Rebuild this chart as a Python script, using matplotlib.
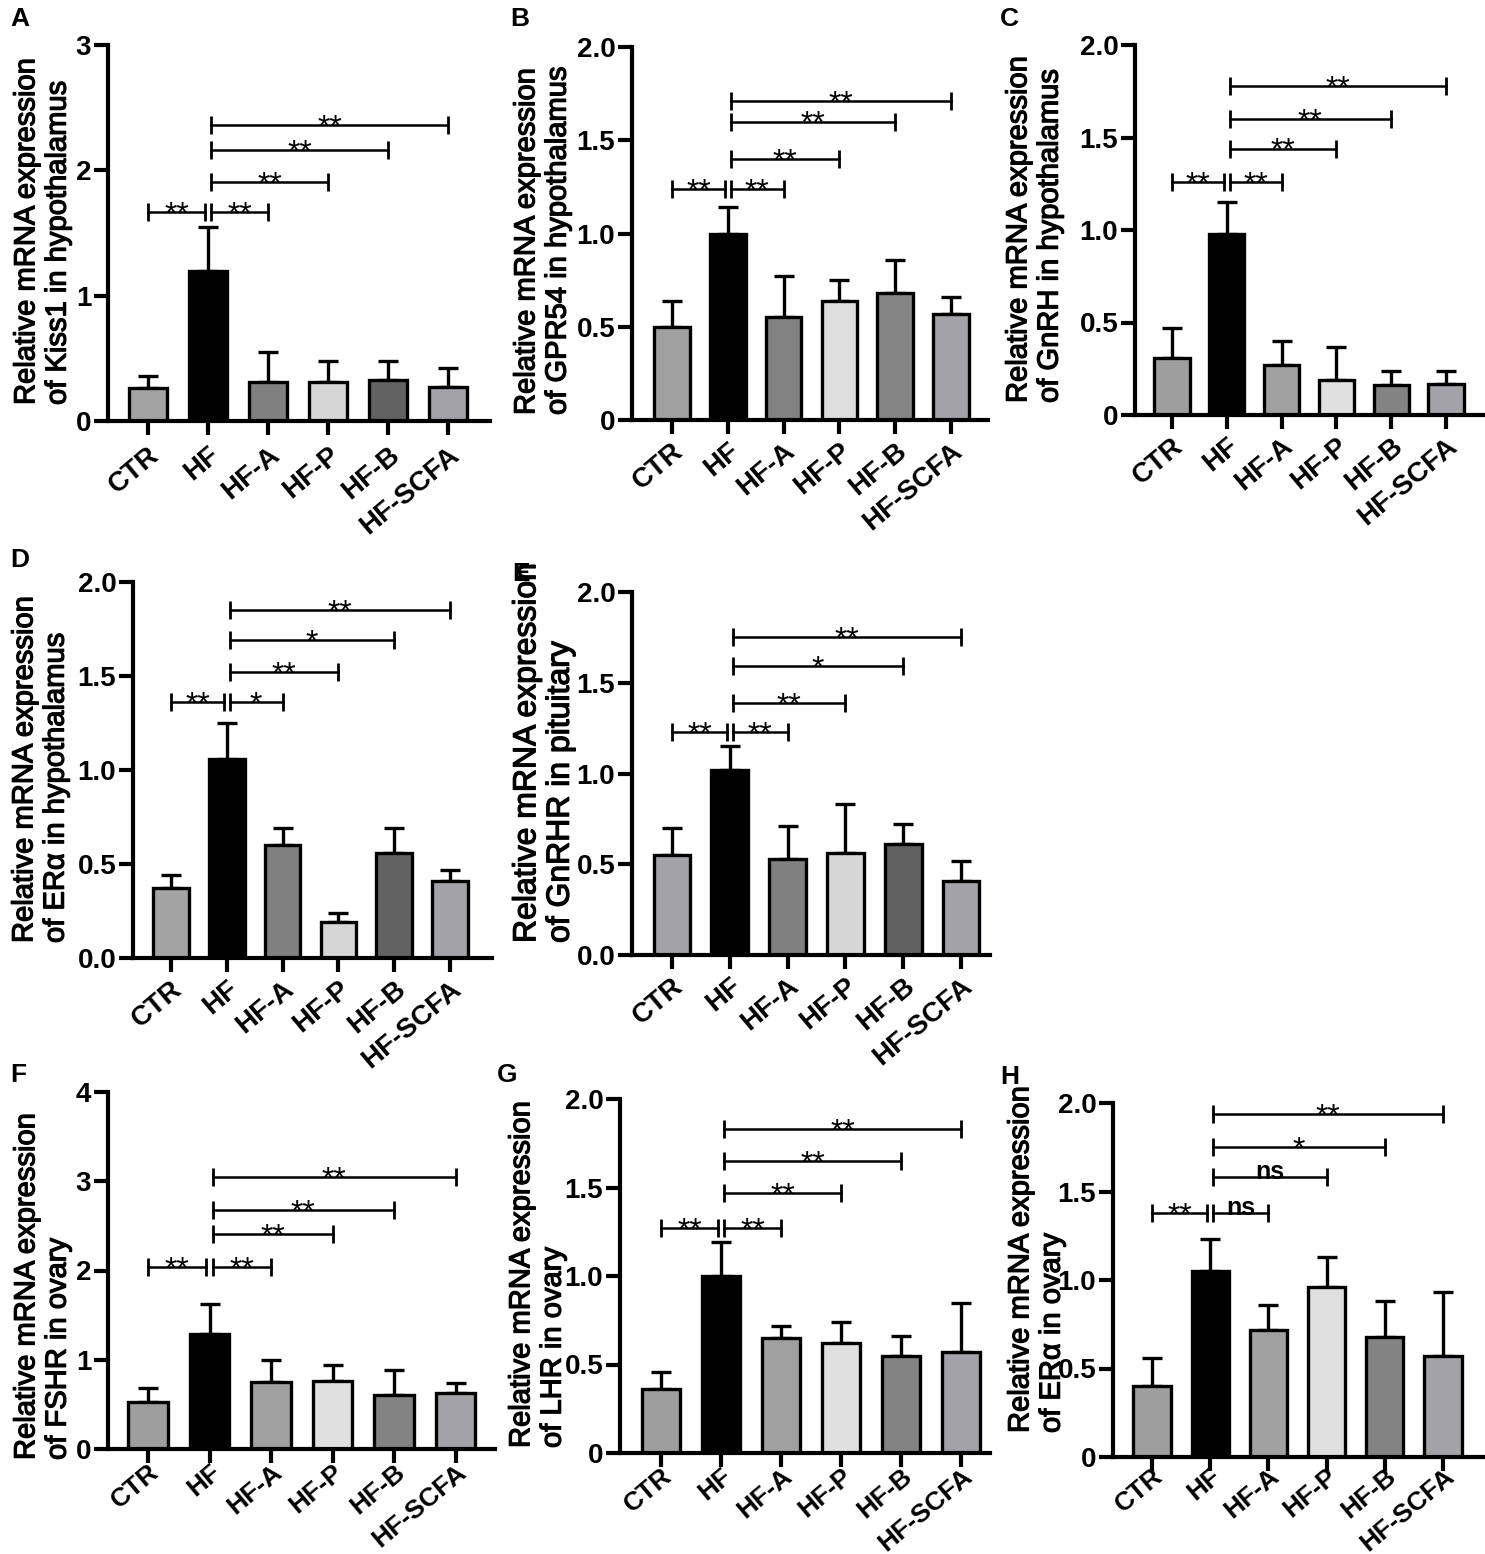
import numpy as np
import matplotlib
matplotlib.use("Agg")
import matplotlib.pyplot as plt
import matplotlib.patheffects as pe

plt.rcParams['font.family'] = ['Liberation Sans', 'DejaVu Sans']

W, H = 1485, 1554

groups = ['CTR', 'HF', 'HF-A', 'HF-P', 'HF-B', 'HF-SCFA']

# mean values and top of error bar
kiss1_mean = [0.26, 1.20, 0.31, 0.31, 0.33, 0.27]
kiss1_top = [0.36, 1.55, 0.55, 0.48, 0.48, 0.42]
gpr54_mean = [0.50, 1.00, 0.55, 0.64, 0.68, 0.57]
gpr54_top = [0.64, 1.14, 0.77, 0.75, 0.86, 0.66]
gnrh_mean = [0.31, 0.98, 0.27, 0.19, 0.16, 0.17]
gnrh_top = [0.47, 1.15, 0.40, 0.37, 0.24, 0.24]
era_hyp_mean = [0.37, 1.06, 0.60, 0.19, 0.56, 0.41]
era_hyp_top = [0.44, 1.25, 0.69, 0.24, 0.69, 0.47]
gnrhr_mean = [0.55, 1.02, 0.53, 0.56, 0.61, 0.41]
gnrhr_top = [0.70, 1.15, 0.71, 0.83, 0.72, 0.52]
fshr_mean = [0.53, 1.29, 0.75, 0.76, 0.61, 0.63]
fshr_top = [0.68, 1.62, 1.00, 0.94, 0.88, 0.74]
lhr_mean = [0.36, 1.00, 0.65, 0.62, 0.55, 0.57]
lhr_top = [0.46, 1.19, 0.72, 0.74, 0.66, 0.85]
era_ov_mean = [0.40, 1.05, 0.72, 0.96, 0.68, 0.57]
era_ov_top = [0.56, 1.23, 0.86, 1.13, 0.88, 0.93]

# significance brackets: (from group, to group, height, label)
sig_A = [(0, 1, 1.67, '**'), (1, 2, 1.67, '**'), (1, 3, 1.91, '**'), (1, 4, 2.16, '**'), (1, 5, 2.36, '**')]
sig_B = [(0, 1, 1.24, '**'), (1, 2, 1.24, '**'), (1, 3, 1.40, '**'), (1, 4, 1.60, '**'), (1, 5, 1.71, '**')]
sig_C = [(0, 1, 1.26, '**'), (1, 2, 1.26, '**'), (1, 3, 1.44, '**'), (1, 4, 1.60, '**'), (1, 5, 1.78, '**')]
sig_D = [(0, 1, 1.36, '**'), (1, 2, 1.36, '*'), (1, 3, 1.52, '**'), (1, 4, 1.69, '*'), (1, 5, 1.85, '**')]
sig_E = [(0, 1, 1.23, '**'), (1, 2, 1.23, '**'), (1, 3, 1.39, '**'), (1, 4, 1.59, '*'), (1, 5, 1.75, '**')]
sig_F = [(0, 1, 2.04, '**'), (1, 2, 2.04, '**'), (1, 3, 2.41, '**'), (1, 4, 2.68, '**'), (1, 5, 3.05, '**')]
sig_G = [(0, 1, 1.27, '**'), (1, 2, 1.27, '**'), (1, 3, 1.47, '**'), (1, 4, 1.65, '**'), (1, 5, 1.83, '**')]
sig_H = [(0, 1, 1.38, '**'), (1, 2, 1.38, 'ns'), (1, 3, 1.58, 'ns'), (1, 4, 1.75, '*'), (1, 5, 1.94, '**')]

col1 = ['#a3a3a3', '#000000', '#808080', '#d6d6d6', '#626262', '#a2a2a8']
col2 = ['#a0a0a0', '#000000', '#828282', '#dedede', '#848484', '#a2a2a8']
col3 = ['#9e9e9e', '#000000', '#a0a0a0', '#e0e0e0', '#838383', '#a2a2a8']

ticks2 = [0, 0.5, 1.0, 1.5, 2.0]

# panel layout in pixels: y-axis x, first bar x, bar spacing, x-axis end, top, zero line
panels = [
    dict(letter='A', lpos=(10, 7), mean=kiss1_mean, top=kiss1_top, sig=sig_A, colors=col1,
         ymax=3, ticks=[0, 1, 2, 3], tl=['0', '1', '2', '3'],
         box=(108, 148, 60, 490, 45, 421), xpad=5, xlfs=20,
         ylab='Relative mRNA expression\nof Kiss1 in hypothalamus', ylpos=(42, 405), ylfs=21),
    dict(letter='B', lpos=(510, 7), mean=gpr54_mean, top=gpr54_top, sig=sig_B, colors=col2,
         ymax=2, ticks=ticks2, tl=['0', '0.5', '1.0', '1.5', '2.0'],
         box=(632, 672, 55.8, 988, 47, 420), xpad=3, xlfs=20,
         ylab='Relative mRNA expression\nof GPR54 in hypothalamus', ylpos=(542, 415), ylfs=21),
    dict(letter='C', lpos=(1000, 7), mean=gnrh_mean, top=gnrh_top, sig=sig_C, colors=col3,
         ymax=2, ticks=ticks2, tl=['0', '0.5', '1.0', '1.5', '2.0'],
         box=(1135, 1172, 54.8, 1485, 45, 415), xpad=3, xlfs=20,
         ylab='Relative mRNA expression\nof GnRH in hypothalamus', ylpos=(1034, 403), ylfs=21),
    dict(letter='D', lpos=(10, 548), mean=era_hyp_mean, top=era_hyp_top, sig=sig_D, colors=col1,
         ymax=2, ticks=ticks2, tl=['0.0', '0.5', '1.0', '1.5', '2.0'],
         box=(133, 171, 55.8, 492, 582, 958), xpad=3, xlfs=20,
         ylab='Relative mRNA expression\nof ER\u03b1 in hypothalamus', ylpos=(40, 943), ylfs=21),
    dict(letter='E', lpos=(512, 562), mean=gnrhr_mean, top=gnrhr_top, sig=sig_E,
         colors=['#a2a2a8', '#000000', '#808080', '#d6d6d6', '#606060', '#a2a2a8'],
         ymax=2, ticks=ticks2, tl=['0.0', '0.5', '1.0', '1.5', '2.0'],
         box=(632, 672, 57.8, 990, 592, 955), xpad=3, xlfs=20,
         ylab='Relative mRNA expression\nof GnRHR in pituitary', ylpos=(544, 943), ylfs=23),
    dict(letter='F', lpos=(10, 1063), mean=fshr_mean, top=fshr_top, sig=sig_F, colors=col3,
         ymax=4, ticks=[0, 1, 2, 3, 4], tl=['0', '1', '2', '3', '4'],
         box=(108, 148, 61.5, 495, 1092, 1449), xpad=-2, xlfs=19,
         ylab='Relative mRNA expression\nof FSHR in ovary', ylpos=(42, 1460), ylfs=21),
    dict(letter='G', lpos=(497, 1063), mean=lhr_mean, top=lhr_top, sig=sig_G, colors=col3,
         ymax=2, ticks=ticks2, tl=['0', '0.5', '1.0', '1.5', '2.0'],
         box=(620, 661, 60, 990, 1099, 1453), xpad=-2, xlfs=19,
         ylab='Relative mRNA expression\nof LHR in ovary', ylpos=(537, 1448), ylfs=21),
    dict(letter='H', lpos=(1000, 1065), mean=era_ov_mean, top=era_ov_top, sig=sig_H, colors=col3,
         ymax=2, ticks=ticks2, tl=['0', '0.5', '1.0', '1.5', '2.0'],
         box=(1113, 1152, 58.2, 1485, 1103, 1457), xpad=-5, xlfs=19,
         ylab='Relative mRNA expression\nof ER\u03b1 in ovary', ylpos=(1036, 1433), ylfs=21),
]

fig = plt.figure(figsize=(W / 100, H / 100), dpi=100)
thick = [pe.withStroke(linewidth=0.9, foreground='black')]

for p in panels:
    yx, c0, sp, xr, ytop, y0 = p['box']
    ax = fig.add_axes([yx / W, 1 - y0 / H, (xr - yx) / W, (y0 - ytop) / H])
    x = np.arange(len(groups))
    mean = np.array(p['mean'])
    err = np.array(p['top']) - mean
    ax.errorbar(x, mean, yerr=[np.zeros_like(err), err], fmt='none', ecolor='black',
                elinewidth=2.4, capsize=7, capthick=2.4, zorder=1)
    ax.bar(x, mean, width=0.64, color=p['colors'], edgecolor='black', linewidth=2.4, zorder=2)
    ax.set_xlim(-(c0 - yx) / sp, (xr - c0) / sp)
    ax.set_ylim(0, p['ymax'])
    ax.set_yticks(p['ticks'])
    ax.set_yticklabels(p['tl'])
    ax.set_xticks(x)
    ax.set_xticklabels(groups, rotation=40, ha='right', va='top', rotation_mode='anchor')
    for s in ['top', 'right']:
        ax.spines[s].set_visible(False)
    for s in ['left', 'bottom']:
        ax.spines[s].set_linewidth(3)
    ax.tick_params(axis='y', length=10, width=3, pad=2, labelsize=20)
    ax.tick_params(axis='x', length=10, width=3, pad=p['xpad'], labelsize=p['xlfs'])
    for lab in ax.get_xticklabels() + ax.get_yticklabels():
        lab.set_fontweight('bold')
    for i, j, yv, txt in p['sig']:
        x1 = i + (0.05 if i == 1 else 0)
        x2 = j - (0.05 if j == 1 else 0)
        ax.plot([x1, x2], [yv, yv], color='black', lw=1.8, clip_on=False)
        ax.plot([x1, x2], [yv, yv], ls='none', marker='|', ms=13, mew=2.0, color='black', clip_on=False)
        if txt == 'ns':
            ax.annotate(txt, ((x1 + x2) / 2, yv), xytext=(0, -1.5), textcoords='offset points',
                        ha='center', va='baseline', fontsize=18, fontweight='bold')
        else:
            ax.annotate(txt, ((x1 + x2) / 2, yv), xytext=(0, -8.5), textcoords='offset points',
                        ha='center', va='baseline', fontsize=23)
    fig.text(p['ylpos'][0] / W, 1 - p['ylpos'][1] / H, p['ylab'], rotation=90,
             ha='center', va='bottom', multialignment='left', fontsize=p['ylfs'],
             linespacing=1.15, path_effects=thick)
    fig.text(p['lpos'][0] / W, 1 - p['lpos'][1] / H, p['letter'], ha='left', va='top',
             fontsize=19, fontweight='bold')

fig.savefig('out.png', dpi=100)
